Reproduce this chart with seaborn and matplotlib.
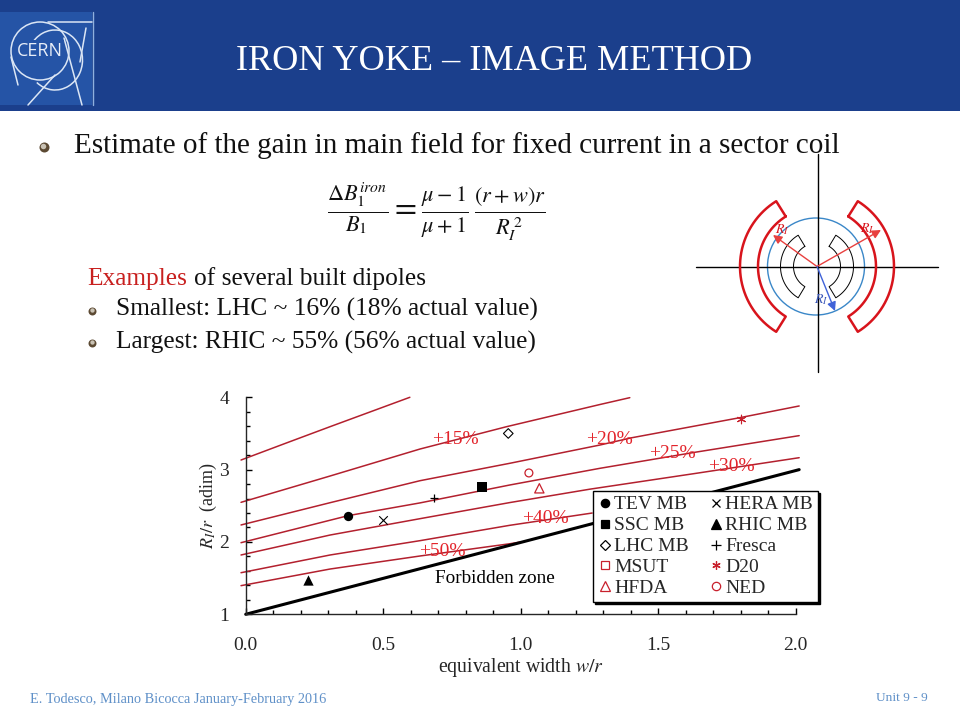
import numpy as np
import matplotlib
matplotlib.use("Agg")
import matplotlib.pyplot as plt
from matplotlib.lines import Line2D
from matplotlib.patches import Arc, Circle, Rectangle
from matplotlib.ticker import MultipleLocator
import seaborn as sns

# gain curves
line_10_x = [-0.017, 0.149, 0.307, 0.597]
line_10_y = [3.133, 3.37, 3.594, 4.0]
line_15_x = [-0.017, 0.307, 0.634, 0.949, 1.288, 1.397]
line_15_y = [2.548, 2.912, 3.285, 3.594, 3.90, 3.995]
line_20_x = [-0.017, 0.307, 0.634, 0.961, 1.288, 1.403, 1.797, 2.013]
line_20_y = [2.235, 2.543, 2.847, 3.088, 3.34, 3.44, 3.718, 3.88]
line_25_x = [-0.017, 0.373, 0.634, 0.961, 1.288, 1.634, 2.013]
line_25_y = [1.99, 2.364, 2.54, 2.788, 3.018, 3.24, 3.47]
line_30_x = [-0.017, 0.307, 0.634, 0.961, 1.252, 1.64, 2.013]
line_30_y = [1.82, 2.096, 2.322, 2.545, 2.73, 2.95, 3.165]
line_40_x = [-0.017, 0.307, 0.634, 0.96, 1.26]
line_40_y = [1.575, 1.82, 2.018, 2.23, 2.40]
line_50_x = [-0.017, 0.307, 0.634, 0.96, 1.0]
line_50_y = [1.396, 1.626, 1.806, 1.975, 2.0]
curves = [(line_10_x, line_10_y), (line_15_x, line_15_y), (line_20_x, line_20_y),
          (line_25_x, line_25_y), (line_30_x, line_30_y), (line_40_x, line_40_y),
          (line_50_x, line_50_y)]

forbidden_x = [0.0, 2.013]
forbidden_y = [1.0, 3.0]

gain_labels = ["+15%", "+20%", "+25%", "+30%", "+40%", "+50%"]
gain_x = [0.761, 1.321, 1.55, 1.765, 1.088, 0.714]
gain_y = [3.42, 3.41, 3.22, 3.05, 2.33, 1.87]

# magnets (MSUT has no visible point, only a legend entry)
magnet_names = ["TEV MB", "SSC MB", "LHC MB", "HFDA", "HERA MB", "RHIC MB", "Fresca", "D20", "NED"]
magnet_x = [0.373, 0.858, 0.955, 1.068, 0.5, 0.228, 0.685, 1.80, 1.03]
magnet_y = [2.364, 2.764, 3.50, 2.742, 2.304, 1.474, 2.604, 3.70, 2.954]

BLUE = "#1b3f8c"
LINE_RED = "#b3202e"
TEXT_RED = "#e3242b"
OPEN_RED = "#c8202c"
LOGO = "#dbe6f5"

sns.set_style("ticks")
plt.rcParams["font.family"] = ["Liberation Serif", "DejaVu Serif"]
plt.rcParams["mathtext.fontset"] = "stix"

fig = plt.figure(figsize=(9.6, 7.2), dpi=100)

# slide background, in pixels
bg = fig.add_axes([0, 0, 1, 1])
bg.set_xlim(0, 960)
bg.set_ylim(720, 0)
bg.axis("off")

bg.add_patch(Rectangle((0, 0), 960, 110.5, color=BLUE, lw=0))
bg.add_patch(Rectangle((0, 12), 92, 93, color="#2554a6", lw=0))
bg.plot([92.5, 92.5], [12, 105], color="#8fb0de", lw=1)
bg.plot([48, 92], [22, 22], color=LOGO, lw=1.1)
bg.add_patch(Circle((40, 51), 29, fill=False, ec=LOGO, lw=1.1))
bg.add_patch(Arc((55, 60), 55, 60, theta1=210, theta2=129, ec=LOGO, lw=1.1))
bg.plot([28, 55], [105, 75], color=LOGO, lw=1.1)
bg.plot([64, 82], [38, 105], color=LOGO, lw=1.1)
bg.plot([86, 80], [28, 62], color=LOGO, lw=1.1)
bg.plot([11, 18], [57, 85], color=LOGO, lw=1.1)
bg.text(39.5, 50.5, "CERN", color="#e8eef8", fontsize=13, family="Open Sans", ha="center", va="center",
        bbox=dict(fc="#2554a6", ec="none", pad=1))

bg.text(494.5, 61, "IRON YOKE \u2013 IMAGE METHOD", color="white", fontsize=26.1, ha="center", va="center")


def bullet(x, y, size):
    bg.scatter([x], [y], s=size, color="#5c4a33", lw=0, zorder=3)
    bg.scatter([x - size ** 0.5 * 0.08], [y - size ** 0.5 * 0.12], s=size * 0.3, color="#c9c2b4", lw=0, zorder=4)


bullet(44, 147, 52)
bullet(92, 311, 33)
bullet(92, 343, 33)

bg.text(74, 146, "Estimate of the gain in main field for fixed current in a sector coil",
        fontsize=21, color="#111111", va="center")
bg.text(87, 279, "Examples", fontsize=18.3, color="#c8201f", va="center")
bg.text(194, 279, "of several built dipoles", fontsize=18.3, color="#111111", va="center")
bg.text(116, 309, "Smallest: LHC ~ 16% (18% actual value)", fontsize=18.3, color="#111111", va="center")
bg.text(116, 342, "Largest: RHIC ~ 55% (56% actual value)", fontsize=18.3, color="#111111", va="center")

bg.text(436, 212, r"$\frac{\Delta B_1^{iron}}{B_1}=\frac{\mu-1}{\mu+1}\,\frac{(r+w)r}{R_I^{\,2}}$",
        fontsize=23, color="#111111", ha="center", va="center")

bg.text(30, 699, "E. Todesco, Milano Bicocca January-February 2016", fontsize=10.3, color="#5f90c8", va="center")
bg.text(928, 698, "Unit 9 - 9", fontsize=9.6, color="#5f90c8", ha="right", va="center")

# sector coil sketch
cx, cy = 817, 266.5


def sector(r_in, r_out, half_angle, side, color, lw):
    a = np.radians(np.linspace(-half_angle, half_angle, 40))
    xs = np.r_[r_in * np.cos(a), r_out * np.cos(a[::-1]), r_in * np.cos(a[0])]
    ys = np.r_[r_in * np.sin(a), r_out * np.sin(a[::-1]), r_in * np.sin(a[0])]
    bg.plot(cx + side * xs, cy + ys, color=color, lw=lw, solid_joinstyle="round")


bg.plot([696, 938], [cy, cy], color="black", lw=1.0)
bg.plot([817.5, 817.5], [154, 372], color="black", lw=1.0)
bg.add_patch(Circle((cx - 1, cy), 48.5, fill=False, ec="#3a87c8", lw=1.0))
for side in (-1, 1):
    sector(23.5, 36.5, 59, side, "black", 0.7)
    sector(59, 77, 58, side, "#d8141c", 1.8)
arrow_red = dict(arrowstyle="-|>", color="#e8403f", lw=1, mutation_scale=13, shrinkA=0, shrinkB=0)
arrow_blue = dict(arrowstyle="-|>", color="#3f62d8", lw=1, mutation_scale=13, shrinkA=0, shrinkB=0)
bg.annotate("", xy=(773, 235), xytext=(cx, cy), arrowprops=arrow_red)
bg.annotate("", xy=(881, 230), xytext=(cx, cy), arrowprops=arrow_red)
bg.annotate("", xy=(835, 311), xytext=(cx, cy), arrowprops=arrow_blue)
bg.text(782, 230, r"$R_I$", fontsize=10, color="#d8141c", ha="center", va="center")
bg.text(867, 229, r"$R_I$", fontsize=10, color="#d8141c", ha="center", va="center")
bg.text(821, 300, r"$R_I$", fontsize=10, color="#3a56b8", ha="center", va="center")

# chart
ax = fig.add_axes([245.7 / 960, 1 - 614.3 / 720, 549.9 / 960, 217 / 720])
ax.patch.set_alpha(0)

for xs, ys in curves:
    sns.lineplot(x=xs, y=ys, color=LINE_RED, lw=1.1, ax=ax, clip_on=False, zorder=2)
sns.lineplot(x=forbidden_x, y=forbidden_y, color="black", lw=2.2, ax=ax, clip_on=False, zorder=2)

sns.scatterplot(x=magnet_x[0:1], y=magnet_y[0:1], marker="o", color="black", s=45, lw=0, ax=ax, zorder=4)
sns.scatterplot(x=magnet_x[1:2], y=magnet_y[1:2], marker="s", color="black", s=45, lw=0, ax=ax, zorder=4)
sns.scatterplot(x=magnet_x[2:3], y=magnet_y[2:3], marker="D", facecolor="none", edgecolor="black", s=24, lw=0.8, ax=ax, zorder=4)
sns.scatterplot(x=magnet_x[3:4], y=magnet_y[3:4], marker="^", facecolor="none", edgecolor=OPEN_RED, s=45, lw=0.9, ax=ax, zorder=4)
sns.scatterplot(x=magnet_x[4:5], y=magnet_y[4:5], marker="x", color="black", s=38, lw=0.8, ax=ax, zorder=4)
sns.scatterplot(x=magnet_x[5:6], y=magnet_y[5:6], marker="^", color="black", s=55, lw=0, ax=ax, zorder=4)
sns.scatterplot(x=magnet_x[6:7], y=magnet_y[6:7], marker="+", color="black", s=34, lw=0.9, ax=ax, zorder=4)
sns.scatterplot(x=magnet_x[7:8], y=magnet_y[7:8], marker=(6, 2, 0), color=OPEN_RED, s=38, lw=0.8, ax=ax, zorder=4)
sns.scatterplot(x=magnet_x[8:9], y=magnet_y[8:9], marker="o", facecolor="none", edgecolor=OPEN_RED, s=32, lw=0.9, ax=ax, zorder=4)

for lab, lx, ly in zip(gain_labels, gain_x, gain_y):
    ax.text(lx, ly, lab, color=TEXT_RED, fontsize=14, ha="center", va="center", zorder=5)
ax.text(0.907, 1.49, "Forbidden zone", color="black", fontsize=13.8, ha="center", va="center", zorder=5)

ax.set_xlim(0, 2)
ax.set_ylim(1, 4)
ax.xaxis.set_major_locator(MultipleLocator(0.5))
ax.xaxis.set_minor_locator(MultipleLocator(0.1))
ax.yaxis.set_major_locator(MultipleLocator(1))
ax.yaxis.set_minor_locator(MultipleLocator(0.2))
ax.xaxis.set_major_formatter("{x:.1f}")
ax.tick_params(which="major", direction="in", length=4.5, width=1, color="black")
ax.tick_params(which="minor", direction="in", length=3, width=1, color="black")
ax.tick_params(axis="x", which="major", labelsize=14, pad=16)
ax.tick_params(axis="y", which="major", labelsize=14, pad=12)
sns.despine(ax=ax)
ax.spines["left"].set_linewidth(1)
ax.spines["bottom"].set_linewidth(1)
ax.set_xlabel(r"equivalent width $w/r$", fontsize=14.2, labelpad=2)
ax.set_ylabel(r"$R_I/r$  (adim)", fontsize=13, labelpad=0)


def handle(marker, color="black", filled=True, **kw):
    return Line2D([], [], ls="none", marker=marker, color=color,
                  markerfacecolor=color if filled else "none", markeredgewidth=0.9, **kw)


legend_handles = [
    handle("o", ms=6), handle("s", ms=6), handle("D", filled=False, ms=5),
    handle("s", color=OPEN_RED, filled=False, ms=6), handle("^", color=OPEN_RED, filled=False, ms=7),
    handle("x", ms=5.5), handle("^", ms=6.5), handle("+", ms=6.5),
    handle((6, 2, 0), color=OPEN_RED, ms=6), handle("o", color=OPEN_RED, filled=False, ms=6),
]
legend_labels = ["TEV MB", "SSC MB", "LHC MB", "MSUT", "HFDA", "HERA MB", "RHIC MB", "Fresca", "D20", "NED"]
leg = ax.legend(legend_handles, legend_labels, ncol=2, loc="upper left",
                bbox_to_anchor=(593 / 960, 1 - 491 / 720), bbox_transform=fig.transFigure,
                borderaxespad=0, frameon=True, fancybox=False, framealpha=1, edgecolor="black",
                shadow={"color": "black", "alpha": 1, "ox": 1.5, "oy": -1.5},
                fontsize=14, handletextpad=0.1, columnspacing=1.0, labelspacing=0.17,
                borderpad=0.25, handlelength=0.75)
leg.get_frame().set_linewidth(1)
leg.set_zorder(6)

fig.savefig("out.png", dpi=100)
